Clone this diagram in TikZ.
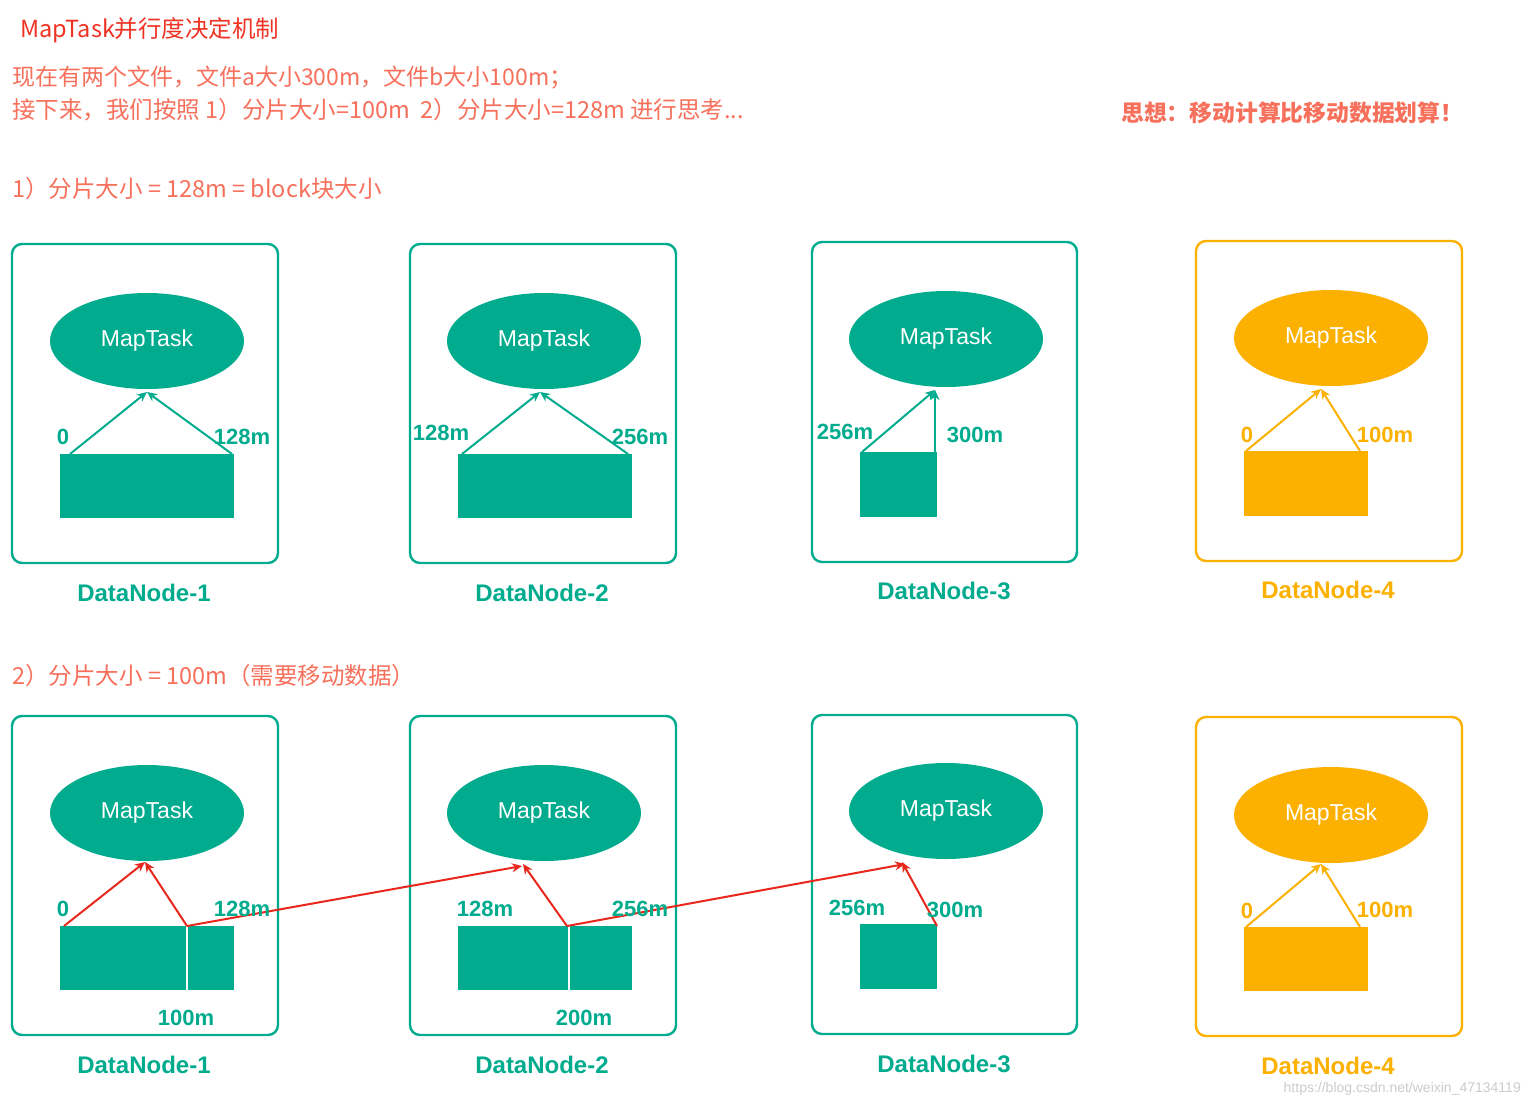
\documentclass[tikz,border=0pt]{standalone}
\usepackage{fontspec}
\setmainfont{Liberation Sans}
\newfontfamily\cjk{Noto Sans CJK SC}
\usetikzlibrary{shapes.geometric,arrows.meta}
\definecolor{hgreen}{RGB}{0,171,142}
\definecolor{horange}{RGB}{252,176,0}
\definecolor{hred}{RGB}{232,40,28}
\definecolor{titlered}{RGB}{240,50,35}
\definecolor{salmon}{RGB}{247,112,92}
\begin{document}
\begin{tikzpicture}[x=1pt,y=-1pt,
  dnbox/.style={draw=#1,line width=2.4pt,rounded corners=10pt,fill=none},
  mt/.style={ellipse,fill=#1,text=white,minimum width=194pt,minimum height=96pt,inner sep=0pt,font=\fontsize{23}{26}\selectfont},
  blk/.style={fill=#1,inner sep=0pt,outer sep=0pt,anchor=north west},
  lbl/.style={text=#1,font=\bfseries\fontsize{22}{25}\selectfont,inner sep=0pt},
  dnl/.style={text=#1,font=\bfseries\fontsize{24}{28}\selectfont,inner sep=0pt},
  arr/.style={draw=#1,line width=2pt,-{Stealth[length=10pt,width=9pt]}},
  hdr/.style={anchor=west,inner sep=0pt,font=\cjk\fontsize{23}{27}\selectfont,text=salmon}]
\useasboundingbox[fill=white] (0,0) rectangle (1530,1101);

% ---------- headings ----------
\node[hdr,text=titlered,font=\cjk\fontsize{23.5}{27}\selectfont] (title) at (20,30) {MapTask并行度决定机制};
\node[hdr] (l1) at (12,78) {现在有两个文件，文件a大小300m，文件b大小100m；};
\node[hdr,font=\cjk\fontsize{23.5}{27}\selectfont] (l2) at (12,110) {接下来，我们按照 1）分片大小=100m\ \ 2）分片大小=128m 进行思考...};
\node[hdr,font=\cjk\bfseries\fontsize{22.8}{27}\selectfont] (idea) at (1121,113) {思想：移动计算比移动数据划算！};
\node[hdr,font=\cjk\fontsize{23.5}{27}\selectfont] (s1) at (12,189) {1）分片大小 = 128m = block块大小};
\node[hdr,font=\cjk\fontsize{23.5}{27}\selectfont] (s2) at (12,676) {2）分片大小 = 100m（需要移动数据）};

% ---------- row 1 ----------
\draw[dnbox=hgreen] (12,244) rectangle (278,563);
\draw[dnbox=hgreen] (410,244) rectangle (676,563);
\draw[dnbox=hgreen] (812,242) rectangle (1077,562);
\draw[dnbox=horange] (1196,241) rectangle (1462,561);

\node[mt=hgreen] (m11) at (147,341) {MapTask};
\node[mt=hgreen] (m12) at (544,341) {MapTask};
\node[mt=hgreen] (m13) at (946,339) {MapTask};
\node[mt=horange] (m14) at (1331,338) {MapTask};

\node[blk=hgreen,minimum width=174pt,minimum height=64pt] (b11) at (60,454) {};
\node[blk=hgreen,minimum width=174pt,minimum height=64pt] (b12) at (458,454) {};
\node[blk=hgreen,minimum width=77pt,minimum height=65pt] (b13) at (860,452) {};
\node[blk=horange,minimum width=124pt,minimum height=65pt] (b14) at (1244,451) {};

\coordinate (t11) at (147,392);
\coordinate (t12) at (540,392);
\coordinate (t13) at (935,390);
\coordinate (t14) at (1321,389);
\coordinate (s11a) at (70,454);  \coordinate (s11b) at (232,454);
\coordinate (s12a) at (462,454); \coordinate (s12b) at (628,454);
\coordinate (s13a) at (862,452); \coordinate (s13b) at (935,452);
\coordinate (s14a) at (1246,451);\coordinate (s14b) at (1360,451);
\draw[arr=hgreen] (s11a) -- (t11);
\draw[arr=hgreen] (s11b) -- (t11);
\draw[arr=hgreen] (s12a) -- (t12);
\draw[arr=hgreen] (s12b) -- (t12);
\draw[arr=hgreen] (s13a) -- (t13);
\draw[arr=hgreen] (s13b) -- (t13);
\draw[arr=horange] (s14a) -- (t14);
\draw[arr=horange] (s14b) -- (t14);

\node[lbl=hgreen] (a1) at (63,437) {0};
\node[lbl=hgreen] (a2) at (242,437) {128m};
\node[lbl=hgreen] (a3) at (441,433) {128m};
\node[lbl=hgreen] (a4) at (640,437) {256m};
\node[lbl=hgreen] (a5) at (845,432) {256m};
\node[lbl=hgreen] (a6) at (975,435) {300m};
\node[lbl=horange] (a7) at (1247,435) {0};
\node[lbl=horange] (a8) at (1385,435) {100m};

\node[dnl=hgreen] (d11) at (144,593) {DataNode-1};
\node[dnl=hgreen] (d12) at (542,593) {DataNode-2};
\node[dnl=hgreen] (d13) at (944,591) {DataNode-3};
\node[dnl=horange] (d14) at (1328,590) {DataNode-4};

% ---------- row 2 ----------
\draw[dnbox=hgreen] (12,716) rectangle (278,1035);
\draw[dnbox=hgreen] (410,716) rectangle (676,1035);
\draw[dnbox=hgreen] (812,715) rectangle (1077,1034);
\draw[dnbox=horange] (1196,717) rectangle (1462,1036);

\node[mt=hgreen] (m21) at (147,813) {MapTask};
\node[mt=hgreen] (m22) at (544,813) {MapTask};
\node[mt=hgreen] (m23) at (946,811) {MapTask};
\node[mt=horange] (m24) at (1331,815) {MapTask};

\node[blk=hgreen,minimum width=174pt,minimum height=64pt] (b21) at (60,926) {};
\node[blk=hgreen,minimum width=174pt,minimum height=64pt] (b22) at (458,926) {};
\node[blk=hgreen,minimum width=77pt,minimum height=65pt] (b23) at (860,924) {};
\node[blk=horange,minimum width=124pt,minimum height=64pt] (b24) at (1244,927) {};
\coordinate (v21) at (187,926); \coordinate (v21b) at (187,990);
\coordinate (v22) at (569,926); \coordinate (v22b) at (569,990);
\draw[white,line width=2.5pt] (v21) -- (v21b);
\draw[white,line width=2.5pt] (v22) -- (v22b);

\coordinate (t21) at (145,862);
\coordinate (t22) at (523,864);
\coordinate (t22x) at (522,866);
\coordinate (t23) at (902,862);
\coordinate (t23x) at (905,864);
\coordinate (t24) at (1321,864);
\coordinate (s21a) at (64,926); \coordinate (s21b) at (187,926);
\coordinate (s22b) at (567,926);
\coordinate (s23b) at (937,926);
\coordinate (s24a) at (1246,927); \coordinate (s24b) at (1360,927);
\draw[arr=hred] (s21a) -- (t21);
\draw[arr=hred] (s21b) -- (t21);
\draw[arr=hred] (s21b) -- (t22x);
\draw[arr=hred] (s22b) -- (t22);
\draw[arr=hred] (s22b) -- (t23x);
\draw[arr=hred] (s23b) -- (t23);
\draw[arr=horange] (s24a) -- (t24);
\draw[arr=horange] (s24b) -- (t24);

\node[lbl=hgreen] (c1) at (63,909) {0};
\node[lbl=hgreen] (c2) at (242,909) {128m};
\node[lbl=hgreen] (c3) at (186,1018) {100m};
\node[lbl=hgreen] (c4) at (485,909) {128m};
\node[lbl=hgreen] (c5) at (640,909) {256m};
\node[lbl=hgreen] (c6) at (584,1018) {200m};
\node[lbl=hgreen] (c7) at (857,908) {256m};
\node[lbl=hgreen] (c8) at (955,910) {300m};
\node[lbl=horange] (c9) at (1247,911) {0};
\node[lbl=horange] (c10) at (1385,910) {100m};

\node[dnl=hgreen] (d21) at (144,1065) {DataNode-1};
\node[dnl=hgreen] (d22) at (542,1065) {DataNode-2};
\node[dnl=hgreen] (d23) at (944,1064) {DataNode-3};
\node[dnl=horange] (d24) at (1328,1066) {DataNode-4};

\node[anchor=east,inner sep=0pt,text=black!20,font=\fontsize{14}{16}\selectfont] (wm) at (1521,1089) {https://blog.csdn.net/weixin\_47134119};
\end{tikzpicture}
\end{document}
